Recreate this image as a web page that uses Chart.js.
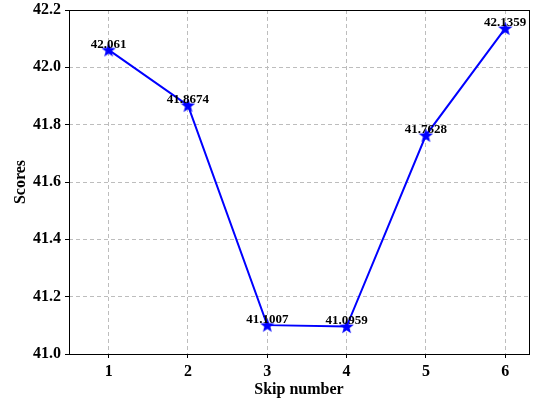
<!DOCTYPE html>
<html lang="en">
<head>
    <meta charset="UTF-8">
    <title>Scores vs Skip number</title>
    <script src="https://cdn.jsdelivr.net/npm/chart.js"></script>
    <style>
        body { margin: 0; background: white; }
        #wrap { width: 538px; height: 399px; }
    </style>
</head>
<body>
    <div id="wrap"><canvas id="scoreChart" width="538" height="399"></canvas></div>

    <script>
        // data
        const skipNumbers = [1, 2, 3, 4, 5, 6];
        const scores = [42.061, 41.8674, 41.1007, 41.0959, 41.7628, 42.1359];
        const scoreLabels = ["42.061", "41.8674", "41.1007", "41.0959", "41.7628", "42.1359"];

        const serif = "'Liberation Serif', 'Times New Roman', serif";

        // filled five point star, like matplotlib's '*' marker
        function makeStar(size) {
            const cv = document.createElement("canvas");
            cv.width = size; cv.height = size;
            const c = cv.getContext("2d");
            const cx = size / 2, cy = size / 2 + 0.6, ro = size / 2, ri = ro * 0.42;
            c.beginPath();
            for (let k = 0; k < 10; k++) {
                const r = k % 2 ? ri : ro;
                const a = -Math.PI / 2 + k * Math.PI / 5;
                c.lineTo(cx + r * Math.cos(a), cy + r * Math.sin(a));
            }
            c.closePath();
            c.fillStyle = "#0000ff";
            c.fill();
            return cv;
        }
        const star = makeStar(15);

        // draws the full box round the plot area
        const frame = {
            id: "frame",
            afterDraw(chart) {
                const a = chart.chartArea, c = chart.ctx;
                c.save();
                c.strokeStyle = "#000";
                c.lineWidth = 1;
                c.strokeRect(a.left + 0.5, a.top + 0.5, a.right - a.left, a.bottom - a.top);
                c.restore();
            }
        };

        // value text above each point
        const valueText = {
            id: "valueText",
            afterDatasetsDraw(chart) {
                const c = chart.ctx;
                const meta = chart.getDatasetMeta(0);
                c.save();
                c.font = "bold 13px " + serif;
                c.fillStyle = "#000";
                c.textAlign = "center";
                c.textBaseline = "bottom";
                meta.data.forEach((pt, i) => {
                    c.fillText(scoreLabels[i], pt.x, pt.y + 1);
                });
                c.restore();
            }
        };

        new Chart(document.getElementById("scoreChart"), {
            type: "line",
            data: {
                datasets: [{
                    data: skipNumbers.map((x, i) => ({ x: x, y: scores[i] })),
                    borderColor: "#0000ff",
                    backgroundColor: "#0000ff",
                    borderWidth: 2,
                    pointStyle: star,
                    pointRadius: 7,
                    tension: 0
                }]
            },
            options: {
                responsive: false,
                animation: false,
                layout: { padding: { top: 10, right: 6, left: 0, bottom: 0 } },
                plugins: { legend: { display: false }, tooltip: { enabled: false } },
                scales: {
                    x: {
                        type: "linear",
                        min: 0.5,
                        max: 6.3,
                        afterFit(s) { s.height = 45; s.paddingLeft = 0; s.paddingRight = 0; },
                        afterBuildTicks(s) { s.ticks = skipNumbers.map(v => ({ value: v })); },
                        grid: {
                            color: "#bdbdbd",
                            tickColor: "#000",
                            tickLength: 4
                        },
                        border: { display: false, dash: [4, 3] },
                        ticks: {
                            color: "#000",
                            padding: 4,
                            font: { family: serif, size: 16, weight: "bold" }
                        },
                        title: {
                            display: true,
                            text: "Skip number",
                            color: "#000",
                            padding: { top: 0, bottom: 0 },
                            font: { family: serif, size: 16, weight: "bold" }
                        }
                    },
                    y: {
                        min: 41.0,
                        max: 42.2,
                        afterFit(s) { s.width = 69; s.paddingTop = 0; s.paddingBottom = 0; },
                        grid: {
                            color: "#bdbdbd",
                            tickColor: "#000",
                            tickLength: 4
                        },
                        border: { display: false, dash: [4, 3] },
                        ticks: {
                            stepSize: 0.2,
                            color: "#000",
                            padding: 4,
                            font: { family: serif, size: 16, weight: "bold" },
                            callback: v => v.toFixed(1)
                        },
                        title: {
                            display: true,
                            text: "Scores",
                            color: "#000",
                            padding: { top: 11, bottom: 3 },
                            font: { family: serif, size: 16, weight: "bold" }
                        }
                    }
                }
            },
            plugins: [frame, valueText]
        });
    </script>
</body>
</html>
